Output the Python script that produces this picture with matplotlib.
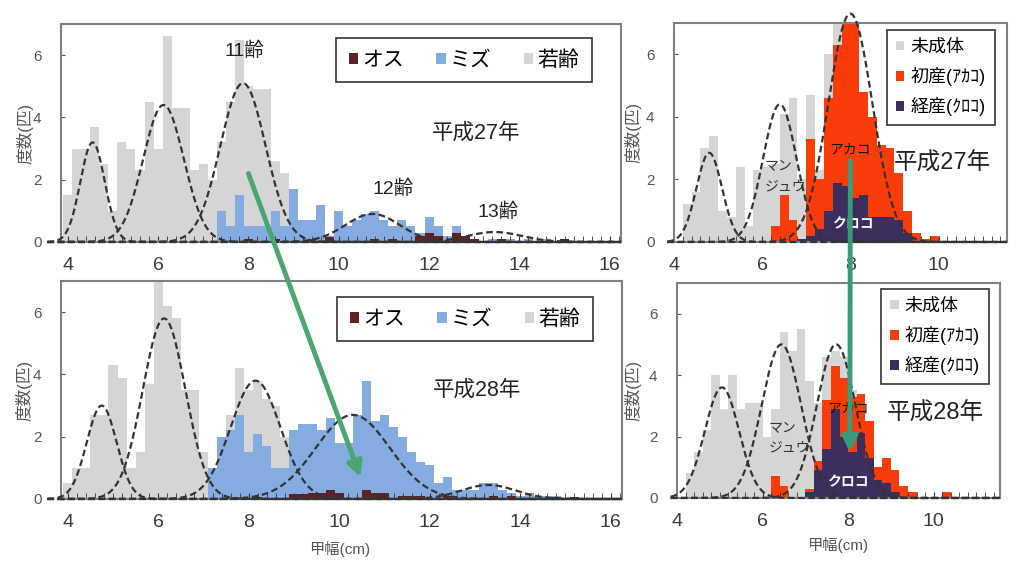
import matplotlib.pyplot as plt
import numpy as np
from matplotlib.patches import ConnectionPatch
from matplotlib.ticker import MultipleLocator

plt.rcParams['font.family'] = ['Liberation Sans', 'Noto Sans CJK JP']

# ---- H27 (left, top): carapace width bins (left edge, cm) and counts
young27_x = [3.9, 4.1, 4.3, 4.5, 4.7, 4.9, 5.1, 5.3, 5.5, 5.7, 5.9, 6.1, 6.3, 6.5,
             6.7, 6.9, 7.1, 7.3, 7.5, 7.7, 7.9, 8.1, 8.3, 8.5, 8.7, 8.9, 9.1, 9.3]
young27_n = [1.5, 3.0, 3.0, 3.7, 2.5, 1.0, 3.2, 3.0, 2.3, 4.5, 3.0, 6.6, 4.3, 4.3,
             2.3, 2.5, 2.0, 3.2, 4.5, 6.5, 5.0, 4.9, 4.9, 2.6, 2.2, 1.5, 0.5, 0.2]
fem27_x = [7.3, 7.5, 7.7, 7.9, 8.1, 8.3, 8.5, 8.7, 8.9, 9.1, 9.3, 9.5, 9.7, 9.9,
           10.1, 10.3, 10.5, 10.7, 10.9, 11.1, 11.3, 11.5, 11.7, 11.9, 12.1, 12.3,
           12.5, 12.7, 12.9, 13.3, 13.7, 14.1, 14.5]
fem27_n = [1.0, 0.5, 1.5, 0.5, 0.5, 0.5, 1.0, 0.5, 1.7, 0.7, 0.7, 1.2, 0.2, 1.0,
           0.5, 0.7, 0.9, 1.0, 0.7, 0.5, 0.7, 0.5, 0.3, 0.8, 0.5, 0.2,
           0.5, 0.2, 0.1, 0.1, 0.1, 0.1, 0.1]
male27_x = [7.9, 8.5, 9.7, 10.7, 11.1, 11.7, 11.9, 12.1, 12.5, 12.7, 12.9, 13.5, 14.9]
male27_n = [0.1, 0.1, 0.15, 0.1, 0.1, 0.2, 0.3, 0.2, 0.3, 0.2, 0.1, 0.1, 0.1]
# normal fits: mean, sd, peak
fit27_mu = [4.55, 6.12, 7.88, 10.75, 13.45]
fit27_sd = [0.27, 0.45, 0.5, 0.6, 0.6]
fit27_pk = [3.2, 4.4, 5.1, 0.9, 0.32]

# ---- H28 (left, bottom)
young28_x = [3.9, 4.1, 4.3, 4.5, 4.7, 4.9, 5.1, 5.3, 5.5, 5.7, 5.9, 6.1, 6.3, 6.5,
             6.7, 6.9, 7.1, 7.3, 7.5, 7.7, 7.9, 8.1, 8.3, 8.5, 8.7, 8.9, 9.1]
young28_n = [0.5, 1.0, 1.0, 2.7, 2.7, 4.3, 3.9, 1.0, 1.5, 3.7, 7.0, 6.2, 5.8, 3.5,
             3.5, 1.5, 1.0, 1.5, 2.7, 4.2, 3.5, 3.8, 3.2, 3.0, 2.0, 1.5, 0.5]
fem28_x = [7.1, 7.3, 7.5, 7.7, 7.9, 8.1, 8.3, 8.5, 8.7, 8.9, 9.1, 9.3, 9.5, 9.7,
           9.9, 10.1, 10.3, 10.5, 10.7, 10.9, 11.1, 11.3, 11.5, 11.7, 11.9, 12.1,
           12.3, 12.5, 12.7, 12.9, 13.1, 13.3, 13.5, 13.7, 13.9, 14.1, 14.3, 14.5, 14.7]
fem28_n = [1.0, 2.0, 2.2, 2.7, 1.5, 2.1, 1.7, 1.0, 1.0, 2.2, 2.4, 2.4, 2.2, 2.6,
           1.8, 1.8, 2.7, 3.8, 2.5, 2.7, 2.3, 2.0, 1.5, 1.2, 1.1, 0.5,
           0.7, 0.3, 0.3, 0.3, 0.5, 0.5, 0.3, 0.2, 0.1, 0.2, 0.1, 0.1, 0.1]
male28_x = [8.1, 8.9, 9.1, 9.3, 9.5, 9.7, 9.9, 10.5, 10.7, 10.9, 11.3, 11.5, 11.7,
            12.3, 13.3, 13.7, 14.7, 15.1]
male28_n = [0.05, 0.15, 0.15, 0.2, 0.2, 0.3, 0.2, 0.3, 0.2, 0.2, 0.1, 0.1, 0.1,
            0.1, 0.1, 0.1, 0.05, 0.05]
fit28_mu = [4.75, 6.13, 8.15, 10.3, 13.3]
fit28_sd = [0.33, 0.47, 0.55, 0.82, 0.6]
fit28_pk = [3.0, 5.8, 3.8, 2.7, 0.45]

# ---- H27 (right, top): females
imm27_x = [4.2, 4.4, 4.6, 4.8, 5.0, 5.2, 5.4, 5.6, 5.8, 6.0, 6.2, 6.4, 6.6, 6.8,
           7.0, 7.2, 7.4, 7.6, 7.8]
imm27_n = [1.2, 1.6, 3.0, 3.4, 1.0, 0.8, 2.4, 0.5, 2.3, 2.4, 2.5, 4.1, 4.6, 2.0,
           4.7, 2.3, 6.0, 7.0, 6.6]
prim27_x = [6.2, 6.4, 6.6, 7.0, 7.2, 7.4, 7.6, 7.8, 8.0, 8.2, 8.4, 8.6, 8.8, 9.0,
            9.2, 9.4, 9.6, 9.8]
prim27_n = [0.5, 1.5, 0.7, 3.3, 2.0, 4.6, 6.3, 7.0, 7.0, 4.8, 4.0, 3.1, 3.0, 2.2,
            1.0, 0.3, 0.1, 0.2]
mult27_x = [6.8, 7.0, 7.2, 7.4, 7.6, 7.8, 8.0, 8.2, 8.4, 8.6, 8.8, 9.0, 9.2]
mult27_n = [0.1, 0.2, 0.4, 1.0, 1.9, 1.8, 1.4, 1.5, 0.8, 0.8, 0.8, 0.7, 0.3]
fitf27_mu = [4.8, 6.4, 8.0]
fitf27_sd = [0.29, 0.38, 0.5]
fitf27_pk = [2.85, 4.4, 7.3]

# ---- H28 (right, bottom)
imm28_x = [4.2, 4.4, 4.6, 4.8, 5.0, 5.2, 5.4, 5.6, 5.8, 6.0, 6.2, 6.4, 6.6, 6.8,
           7.0, 7.2, 7.4, 7.6, 7.8, 8.0]
imm28_n = [0.8, 1.5, 2.2, 4.0, 2.9, 4.0, 2.9, 3.1, 3.1, 2.0, 2.9, 5.4, 4.8, 5.5,
           3.8, 3.1, 4.6, 4.8, 4.6, 3.5]
prim28_x = [6.2, 6.4, 7.0, 7.2, 7.4, 7.6, 7.8, 8.0, 8.2, 8.4, 8.6, 8.8, 9.0, 9.2,
            9.4, 10.2]
prim28_n = [0.7, 0.4, 0.3, 1.2, 3.2, 4.3, 3.9, 3.3, 3.4, 2.5, 1.0, 1.3, 0.9, 0.4,
            0.2, 0.2]
mult28_x = [7.0, 7.2, 7.4, 7.6, 7.8, 8.0, 8.2, 8.4, 8.6, 8.8, 9.0]
mult28_n = [0.2, 0.9, 1.6, 2.9, 2.0, 1.5, 2.1, 1.3, 0.6, 0.5, 0.2]
fitf28_mu = [5.05, 6.44, 7.72]
fitf28_sd = [0.4, 0.46, 0.45]
fitf28_pk = [3.6, 5.0, 5.0]

GRAY = '#d5d5d5'
BLUE = '#84ace0'
MALE = '#5c2226'
RED = '#fa3c0a'
NAVY = '#3c2f5e'
TXT = '#3a3a3a'


def bell(x, mu, sd, pk):
    return pk * np.exp(-0.5 * ((x - mu) / sd) ** 2)


def style(ax, xlim, xmax_tick):
    ax.set_xlim(*xlim)
    ax.set_ylim(0, 7)
    ax.set_xticks(np.arange(4, xmax_tick + 1, 2))
    ax.set_yticks([0, 2, 4, 6])
    ax.xaxis.set_minor_locator(MultipleLocator(0.2))
    ax.tick_params(axis='x', which='both', direction='in', length=4, color='#333',
                   labelsize=14, labelcolor=TXT, pad=11)
    ax.tick_params(axis='y', direction='in', length=3, color='#555', labelsize=11,
                   labelcolor='#555', pad=14)
    for s in ax.spines.values():
        s.set_color('#808080')
        s.set_linewidth(1.5)
    ax.set_ylabel('度数(匹)', fontsize=12, color='#555')


def curves(ax, mus, sds, pks, x0, x1):
    xs = np.linspace(x0, x1, 400)
    for mu, sd, pk in zip(mus, sds, pks):
        ax.plot(xs, bell(xs, mu, sd, pk), color='#333', lw=1.6, ls=(0, (3, 1.6)),
                clip_on=False, zorder=4)


def frame(lg):
    lg.get_frame().set_edgecolor('#333')
    lg.get_frame().set_linewidth(1.2)


fig = plt.figure(figsize=(10.23, 5.63), dpi=100)
ax1 = fig.add_axes([0.0596, 0.5702, 0.5474, 0.3872])
ax2 = fig.add_axes([0.0596, 0.1137, 0.5484, 0.3872])
ax3 = fig.add_axes([0.6588, 0.5702, 0.3255, 0.389])
ax4 = fig.add_axes([0.6618, 0.1155, 0.3157, 0.3819])

# left panels
for ax, yx, yn, fx, fn, mx, mn, mus, sds, pks, year, lg_y in [
        (ax1, young27_x, young27_n, fem27_x, fem27_n, male27_x, male27_n,
         fit27_mu, fit27_sd, fit27_pk, '平成27年', 0.936),
        (ax2, young28_x, young28_n, fem28_x, fem28_n, male28_x, male28_n,
         fit28_mu, fit28_sd, fit28_pk, '平成28年', 0.927)]:
    b_y = ax.bar(yx, yn, width=0.2, align='edge', color=GRAY, lw=0)
    b_f = ax.bar(fx, fn, width=0.2, align='edge', color=BLUE, lw=0)
    b_m = ax.bar(mx, mn, width=0.2, align='edge', color=MALE, lw=0)
    curves(ax, mus, sds, pks, 3.55, 16.25)
    style(ax, (3.85, 16.25), 16)
    ax.yaxis.set_label_coords(-0.05, 0.5)
    lg = ax.legend([b_m, b_f, b_y], ['オス', 'ミズ', '若齢'], ncol=3, loc='upper right',
                   bbox_to_anchor=(0.948, lg_y), borderaxespad=0, fontsize=15,
                   handlelength=0.45, handleheight=0.45, handletextpad=0.2,
                   columnspacing=1.55, fancybox=False, framealpha=1, borderpad=0.6)
    frame(lg)
    ax.text(13.05, 3.5, year, fontsize=15.5, ha='center', va='center', color='#222')

ax1.text(7.92, 6.13, '11齢', fontsize=14, ha='center', va='center', color='#222')
ax1.text(11.2, 1.72, '12齢', fontsize=14, ha='center', va='center', color='#222')
ax1.text(13.53, 0.96, '13齢', fontsize=14, ha='center', va='center', color='#222')
ax2.set_xlabel('甲幅(cm)', fontsize=11, color='#555')
ax2.xaxis.set_label_coords(0.497, -0.193)

# right panels
for ax, ix, inn, px, pn, mx, mn, mus, sds, pks, year, lg_anchor, yy, mj, ak, kr in [
        (ax3, imm27_x, imm27_n, prim27_x, prim27_n, mult27_x, mult27_n,
         fitf27_mu, fitf27_sd, fitf27_pk, ('平成27年', 10.08, 2.52), (0.964, 0.968),
         -0.099, (6.05, 2.1), (8.0, 2.94), (8.05, 0.55)),
        (ax4, imm28_x, imm28_n, prim28_x, prim28_n, mult28_x, mult28_n,
         fitf28_mu, fitf28_sd, fitf28_pk, ('平成28年', 10.05, 2.74), (0.966, 0.972),
         -0.111, (6.15, 1.95), (8.0, 2.9), (8.0, 0.5))]:
    b_i = ax.bar(ix, inn, width=0.2, align='edge', color=GRAY, lw=0)
    b_p = ax.bar(px, pn, width=0.2, align='edge', color=RED, lw=0)
    b_k = ax.bar(mx, mn, width=0.2, align='edge', color=NAVY, lw=0)
    curves(ax, mus, sds, pks, 3.85, 11.55)
    style(ax, (4.05, 11.55), 10)
    ax.yaxis.set_label_coords(yy, 0.5)
    lg = ax.legend([b_i, b_p, b_k], ['未成体', '初産(ｱｶｺ)', '経産(ｸﾛｺ)'],
                   loc='upper right', bbox_to_anchor=lg_anchor, borderaxespad=0,
                   fontsize=13, handlelength=0.45, handleheight=0.45,
                   handletextpad=0.35, labelspacing=0.62, fancybox=False,
                   framealpha=1, borderpad=0.5)
    frame(lg)
    ax.text(year[1], year[2], year[0], fontsize=17, ha='center', va='center',
            color='#222', zorder=6)
    ax.text(mj[0], mj[1], 'マン\nジュウ', fontsize=10, ha='left', va='center',
            color='#333', linespacing=1.5, zorder=6)
    ax.text(ak[0], ak[1], 'アカコ', fontsize=10, ha='center', va='center',
            color='#111', zorder=6)
    ax.text(kr[0], kr[1], 'クロコ', fontsize=10, ha='center', va='center',
            color='white', fontweight='bold', zorder=6)

ax4.set_xlabel('甲幅(cm)', fontsize=11, color='#555')
ax4.xaxis.set_label_coords(0.498, -0.181)

# growth arrows across panels
arr1 = ConnectionPatch(xyA=(8.0, 2.2), coordsA=ax1.transData,
                       xyB=(10.47, 0.7), coordsB=ax2.transData,
                       arrowstyle='-|>', lw=3.5, color='#4aa56e',
                       mutation_scale=22, zorder=10)
arr2 = ConnectionPatch(xyA=(8.0, 2.6), coordsA=ax3.transData,
                       xyB=(8.04, 1.5), coordsB=ax4.transData,
                       arrowstyle='-|>', lw=3.5, color='#3b9a78',
                       mutation_scale=22, zorder=10)
fig.add_artist(arr1)
fig.add_artist(arr2)

fig.savefig('out.png', dpi=100)
